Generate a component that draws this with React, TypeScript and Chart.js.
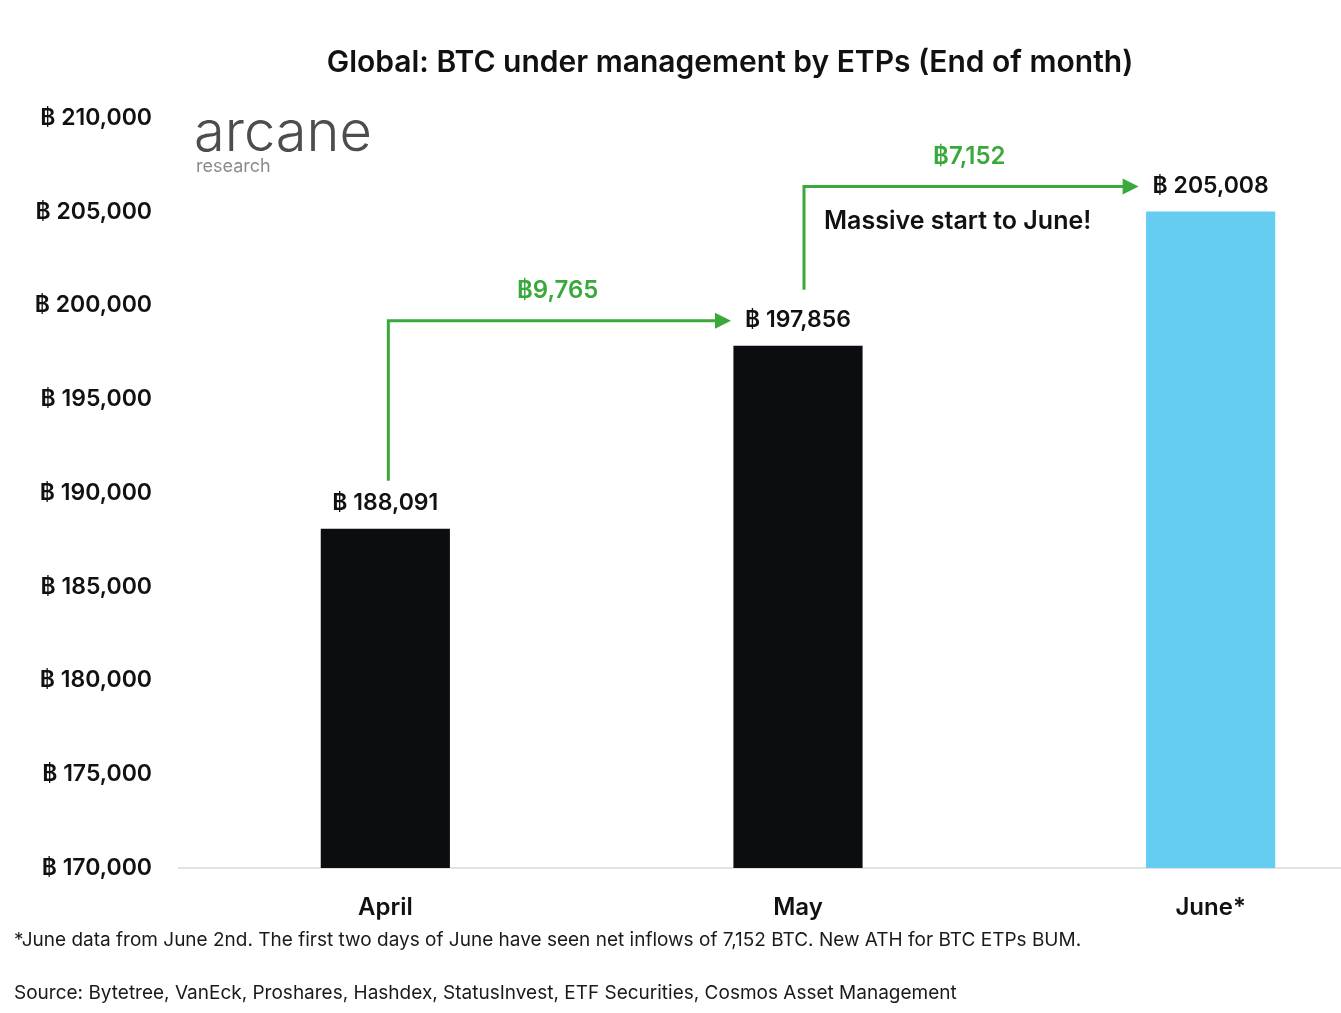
import React, { useEffect, useRef } from "react";
import { Chart, registerables } from "chart.js";

Chart.register(...registerables);

const categories = ["April", "May", "June*"];
const btcHeld = [188091, 197856, 205008];
const barColors = ["#0b0d10", "#0b0d10", "#66cdf2"];
const yMin = 170000;
const yMax = 210000;
const yStep = 5000;
const chartTitle = "Global: BTC under management by ETPs (End of month)";
const calloutText = "Massive start to June!";
const footnote =
  "*June data from June 2nd. The first two days of June have seen net inflows of 7,152 BTC. New ATH for BTC ETPs BUM.";
const sourceText =
  "Source: Bytetree, VanEck, Proshares, Hashdex, StatusInvest, ETF Securities, Cosmos Asset Management";

const FONT = '"Inter", "Open Sans", sans-serif';
const GREEN = "#38a93a";
const fmt = (v: number) => v.toLocaleString("en-US");

const overlayPlugin = {
  id: "overlay",
  afterDatasetsDraw(chart: any) {
    const ctx = chart.ctx as CanvasRenderingContext2D;
    const bars = chart.getDatasetMeta(0).data;
    ctx.save();

    // Title
    ctx.fillStyle = "#111";
    ctx.textAlign = "center";
    ctx.textBaseline = "middle";
    ctx.font = `600 30px ${FONT}`;
    ctx.fillText(chartTitle, 730, 63);

    // Logo
    ctx.textAlign = "left";
    ctx.fillStyle = "#4d4d4d";
    ctx.font = `300 56px ${FONT}`;
    ctx.fillText("arcane", 194, 134);
    ctx.fillStyle = "#8c8c8c";
    ctx.font = `400 18px ${FONT}`;
    ctx.fillText("research", 196, 167);

    // Value labels
    ctx.font = `600 23px ${FONT}`;
    ctx.fillStyle = "#111";
    ctx.textAlign = "center";
    const labels = bars.map((b: any, i: number) => {
      const text = "฿ " + fmt(btcHeld[i]);
      const y = b.y - 26;
      ctx.fillText(text, b.x, y);
      return { x: b.x, y, w: ctx.measureText(text).width };
    });

    // Arrows
    const startOffsets = [{ dx: 3, dy: 22 }, { dx: 6, dy: 30 }];
    for (let i = 0; i < bars.length - 1; i++) {
      const from = labels[i];
      const to = labels[i + 1];
      const x0 = from.x + startOffsets[i].dx;
      const y0 = from.y - startOffsets[i].dy;
      const yL = to.y + 1;
      const xTip = to.x - to.w / 2 - 14;
      ctx.strokeStyle = GREEN;
      ctx.fillStyle = GREEN;
      ctx.lineWidth = 3;
      ctx.beginPath();
      ctx.moveTo(x0, y0);
      ctx.lineTo(x0, yL);
      ctx.lineTo(xTip - 14, yL);
      ctx.stroke();
      ctx.beginPath();
      ctx.moveTo(xTip, yL);
      ctx.lineTo(xTip - 16, yL - 8);
      ctx.lineTo(xTip - 16, yL + 8);
      ctx.closePath();
      ctx.fill();
      ctx.font = `600 24px ${FONT}`;
      ctx.textAlign = "center";
      ctx.fillText("฿" + fmt(btcHeld[i + 1] - btcHeld[i]), (x0 + xTip) / 2 - 2, yL - 30);
      if (i === bars.length - 2) {
        ctx.fillStyle = "#111";
        ctx.textAlign = "left";
        ctx.font = `600 25px ${FONT}`;
        ctx.fillText(calloutText, x0 + 20, yL + 35);
      }
    }

    // Footer
    ctx.textAlign = "left";
    ctx.fillStyle = "#1a1a1a";
    ctx.font = `400 19px ${FONT}`;
    ctx.fillText(footnote, 14, 940);
    ctx.fillText(sourceText, 14, 993);

    ctx.restore();
  },
};

export default function App() {
  const ref = useRef<HTMLCanvasElement | null>(null);

  useEffect(() => {
    if (!ref.current) return;
    const chart = new Chart(ref.current, {
      type: "bar",
      data: {
        labels: categories,
        datasets: [
          {
            data: btcHeld,
            backgroundColor: barColors,
            barPercentage: 0.313,
            categoryPercentage: 1,
          },
        ],
      },
      options: {
        animation: false,
        responsive: false,
        devicePixelRatio: 1,
        layout: { padding: { top: 118, bottom: 85, left: 0, right: 3 } },
        plugins: { legend: { display: false }, tooltip: { enabled: false } },
        scales: {
          x: {
            grid: { display: false, drawTicks: false },
            border: { display: true, color: "#e2e2e2", width: 2 },
            ticks: {
              padding: 25,
              color: "#111",
              font: { family: FONT, size: 24, weight: "600" },
            },
            afterFit: (s: any) => {
              s.height = 60;
            },
          },
          y: {
            min: yMin,
            max: yMax,
            grid: { display: false, drawTicks: false },
            border: { display: false },
            ticks: {
              stepSize: yStep,
              padding: 27,
              color: "#111",
              font: { family: FONT, size: 23, weight: "600" },
              callback: (v: any) => "฿ " + fmt(Number(v)),
            },
            afterFit: (s: any) => {
              s.width = 179;
            },
          },
        },
      },
      plugins: [overlayPlugin],
    });
    return () => chart.destroy();
  }, []);

  return (
    <div
      style={{
        position: "absolute",
        left: 0,
        top: 0,
        width: 1341,
        height: 1013,
        overflow: "hidden",
        background: "#fff",
      }}
    >
      <canvas ref={ref} width={1420} height={1013} style={{ width: 1420, height: 1013, display: "block" }} />
    </div>
  );
}
